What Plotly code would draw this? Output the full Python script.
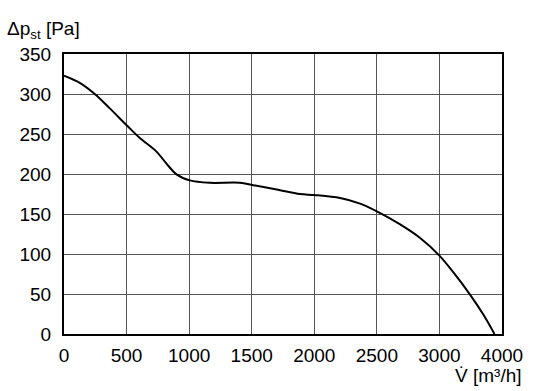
import plotly.graph_objects as go

# axis-position flow values (last grid interval is labelled 4000 in the original)
flow = [0, 126, 246, 366, 507, 606, 739, 819, 899, 1006, 1164, 1405, 1512, 1699, 1886,
        2000, 2206, 2366, 2504, 2686, 2846, 3000, 3112, 3246, 3352, 3440]
pressure = [323, 314, 300, 282, 260, 245, 228, 213, 199.5, 192, 189, 189, 186,
            180.7, 175, 173.7, 170, 163, 153, 137, 120, 98, 77, 49, 24, 0]

x_tickvals = [0, 500, 1000, 1500, 2000, 2500, 3000, 3500]
x_ticktext = ["0", "500", "1000", "1500", "2000", "2500", "3000", "4000"]
y_tickvals = [0, 50, 100, 150, 200, 250, 300, 350]

FONT = "Liberation Sans Narrow, Arial Narrow, Liberation Sans, Arial, sans-serif"

fig = go.Figure()
fig.add_trace(go.Scatter(x=flow, y=pressure, mode="lines",
                         line=dict(color="black", width=2, shape="spline", smoothing=0.9),
                         hoverinfo="skip", showlegend=False))

fig.update_layout(
    width=536, height=391,
    margin=dict(l=64, r=34, t=54, b=57, autoexpand=False),
    paper_bgcolor="white", plot_bgcolor="white",
    font=dict(family=FONT, size=19, color="black"),
    xaxis=dict(range=[0, 3500], tickvals=x_tickvals, ticktext=x_ticktext,
               showgrid=True, gridcolor="#555555", gridwidth=1,
               showline=True, linecolor="black", linewidth=2, mirror=True,
               zeroline=False, ticks="", ticklen=0, automargin=False,
               ticklabelstandoff=3),
    yaxis=dict(range=[0, 350], tickvals=y_tickvals,
               showgrid=True, gridcolor="#555555", gridwidth=1,
               showline=True, linecolor="black", linewidth=2, mirror=True,
               zeroline=False, ticks="", ticklen=0, automargin=False,
               ticklabelstandoff=7),
    annotations=[
        dict(text="Δp<sub>st</sub> [Pa]", xref="paper", yref="paper",
             x=-0.135, y=1.034, xanchor="left", yanchor="bottom", showarrow=False,
             font=dict(family=FONT, size=19)),
        dict(text="V\u0307 [m³/h]", xref="paper", yref="paper",
             x=1.05, y=-0.104, xanchor="right", yanchor="top", showarrow=False,
             font=dict(family=FONT, size=19)),
    ],
)

fig.write_html("out.html", config={"displayModeBar": False},
               post_script="document.body.style.margin='0';")
